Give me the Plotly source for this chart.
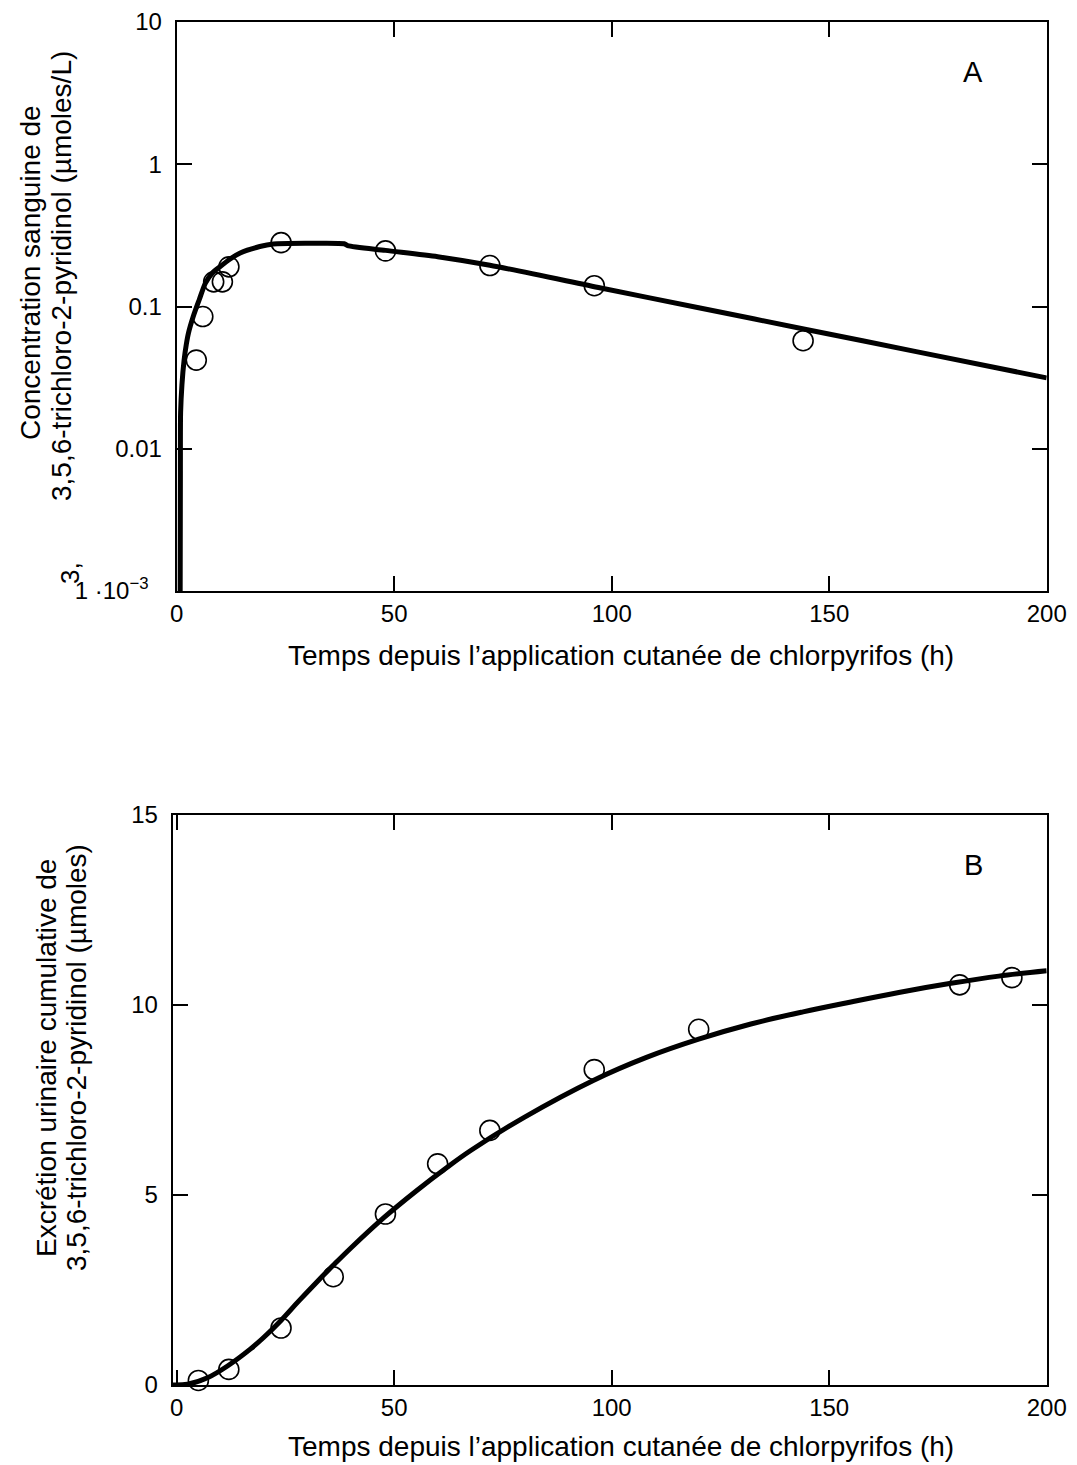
import plotly.graph_objects as go

# ---------------- Data ----------------
# Panel A: blood concentration of TCPy (µmoles/L)
a_obs_t = [4.5, 6, 8.5, 10.5, 12, 24, 48, 72, 96, 144]
a_obs_c = [0.042, 0.085, 0.149, 0.149, 0.19, 0.281, 0.246, 0.194, 0.140, 0.0575]
a_fit_t = [0.8, 0.85, 0.9, 1.2, 1.7, 2.2, 2.7, 3.8, 5.2, 6.6, 8.2, 10, 12.2,
           14.6, 19.1, 22.2, 30, 38.5, 39.3, 48, 60, 72, 97.5, 120, 145, 170, 200]
a_fit_c = [0.001, 0.007, 0.018, 0.028, 0.042, 0.054, 0.065, 0.085, 0.112, 0.146,
           0.172, 0.191, 0.215, 0.238, 0.264, 0.275, 0.278, 0.276, 0.268, 0.248,
           0.224, 0.195, 0.135, 0.098, 0.0687, 0.0482, 0.0315]

# Panel B: cumulative urinary excretion of TCPy (µmoles)
b_obs_t = [5, 12, 24, 36, 48, 60, 72, 96, 120, 180, 192]
b_obs_e = [0.12, 0.41, 1.5, 2.85, 4.5, 5.82, 6.7, 8.3, 9.36, 10.53, 10.72]
b_fit_t = [-0.9, 2.5, 7.1, 11.7, 17, 20, 24, 28, 32.3, 36, 40, 47.7, 55, 62.2,
           67.6, 80, 95.9, 108, 120, 132, 144, 155, 166, 178, 189, 200]
b_fit_e = [0, 0.02, 0.19, 0.5, 0.95, 1.25, 1.7, 2.2, 2.72, 3.15, 3.6, 4.41, 5.1,
           5.73, 6.17, 7.05, 8.02, 8.62, 9.1, 9.5, 9.82, 10.08, 10.33, 10.57,
           10.76, 10.9]

x_ticks = [0, 50, 100, 150, 200]
a_y_ticks = [0.001, 0.01, 0.1, 1, 10]
a_y_ticktext = ["1 ·10<sup>−3</sup>\u00a0\u00a0", "0.01", "0.1", "1", "10"]
b_y_ticks = [0, 5, 10, 15]

x_title = "Temps depuis l’application cutanée de chlorpyrifos (h)"
a_y_title_lines = ["Concentration sanguine de",
                   "3,5,6-trichloro-2-pyridinol (µmoles/L)"]
b_y_title_lines = ["Excrétion urinaire cumulative de",
                   "3,5,6-trichloro-2-pyridinol (µmoles)"]

# ---------------- Figure ----------------
W, H = 1077, 1465
FONT = "Liberation Sans, Arial, sans-serif"

def px_x(p):
    return p / W

def px_y(p):
    return 1 - p / H

fig = go.Figure()

marker_style = dict(symbol="circle-open", size=20, color="black",
                    line=dict(color="black", width=1.6))

fig.add_trace(go.Scatter(x=a_fit_t, y=a_fit_c, mode="lines",
                         line=dict(color="black", width=5, shape="spline", smoothing=0.7),
                         xaxis="x", yaxis="y", showlegend=False))
fig.add_trace(go.Scatter(x=a_obs_t, y=a_obs_c, mode="markers", marker=marker_style,
                         xaxis="x", yaxis="y", showlegend=False, cliponaxis=False))
fig.add_trace(go.Scatter(x=b_fit_t, y=b_fit_e, mode="lines",
                         line=dict(color="black", width=5, shape="spline", smoothing=1.0),
                         xaxis="x2", yaxis="y2", showlegend=False))
fig.add_trace(go.Scatter(x=b_obs_t, y=b_obs_e, mode="markers", marker=marker_style,
                         xaxis="x2", yaxis="y2", showlegend=False, cliponaxis=False))

axis_common = dict(
    showline=True, linecolor="black", linewidth=2, mirror="allticks",
    ticks="inside", ticklen=15, tickwidth=2, tickcolor="black",
    showgrid=False, zeroline=False, automargin=False,
    tickfont=dict(family=FONT, size=24, color="black"),
)

fig.update_layout(
    width=W, height=H,
    margin=dict(l=0, r=0, t=0, b=0, autoexpand=False),
    paper_bgcolor="white", plot_bgcolor="white",
    font=dict(family=FONT, color="black"),
    xaxis=dict(axis_common, domain=[px_x(176.7), px_x(1046.7)], range=[0, 200],
               tickvals=x_ticks, anchor="y", ticklabelstandoff=0),
    yaxis=dict(axis_common, domain=[px_y(591), px_y(22)], type="log", range=[-3, 1],
               tickvals=a_y_ticks, ticktext=a_y_ticktext, anchor="x",
               ticklabelstandoff=8),
    xaxis2=dict(axis_common, domain=[px_x(172.7), px_x(1046.7)], range=[-0.9, 200],
                tickvals=x_ticks, anchor="y2", ticklabelstandoff=0),
    yaxis2=dict(axis_common, domain=[px_y(1385), px_y(815)], range=[0, 15],
                tickvals=b_y_ticks, anchor="x2", ticklabelstandoff=8),
)

title_font = dict(family=FONT, size=28, color="black")

def ann(text, x, y, angle=0, font=title_font, yanchor="middle"):
    return dict(text=text, x=px_x(x), y=px_y(y), xref="paper", yref="paper",
                showarrow=False, font=font, textangle=angle,
                xanchor="center", yanchor=yanchor)

annotations = [
    ann(x_title, 621, 655),
    ann(x_title, 621, 1446),
    ann(a_y_title_lines[0], 31, 273, -90),
    ann(a_y_title_lines[1], 61, 276, -90),
    ann(b_y_title_lines[0], 46, 1058, -90),
    ann(b_y_title_lines[1], 76, 1058, -90),
    ann("3,", 70, 573, -90, dict(family=FONT, size=26, color="black")),
    ann("A", 973, 72, 0, dict(family=FONT, size=29, color="black")),
    ann("B", 973, 865, 0, dict(family=FONT, size=29, color="black")),
]
fig.update_layout(annotations=annotations)

fig.write_html("out.html")
